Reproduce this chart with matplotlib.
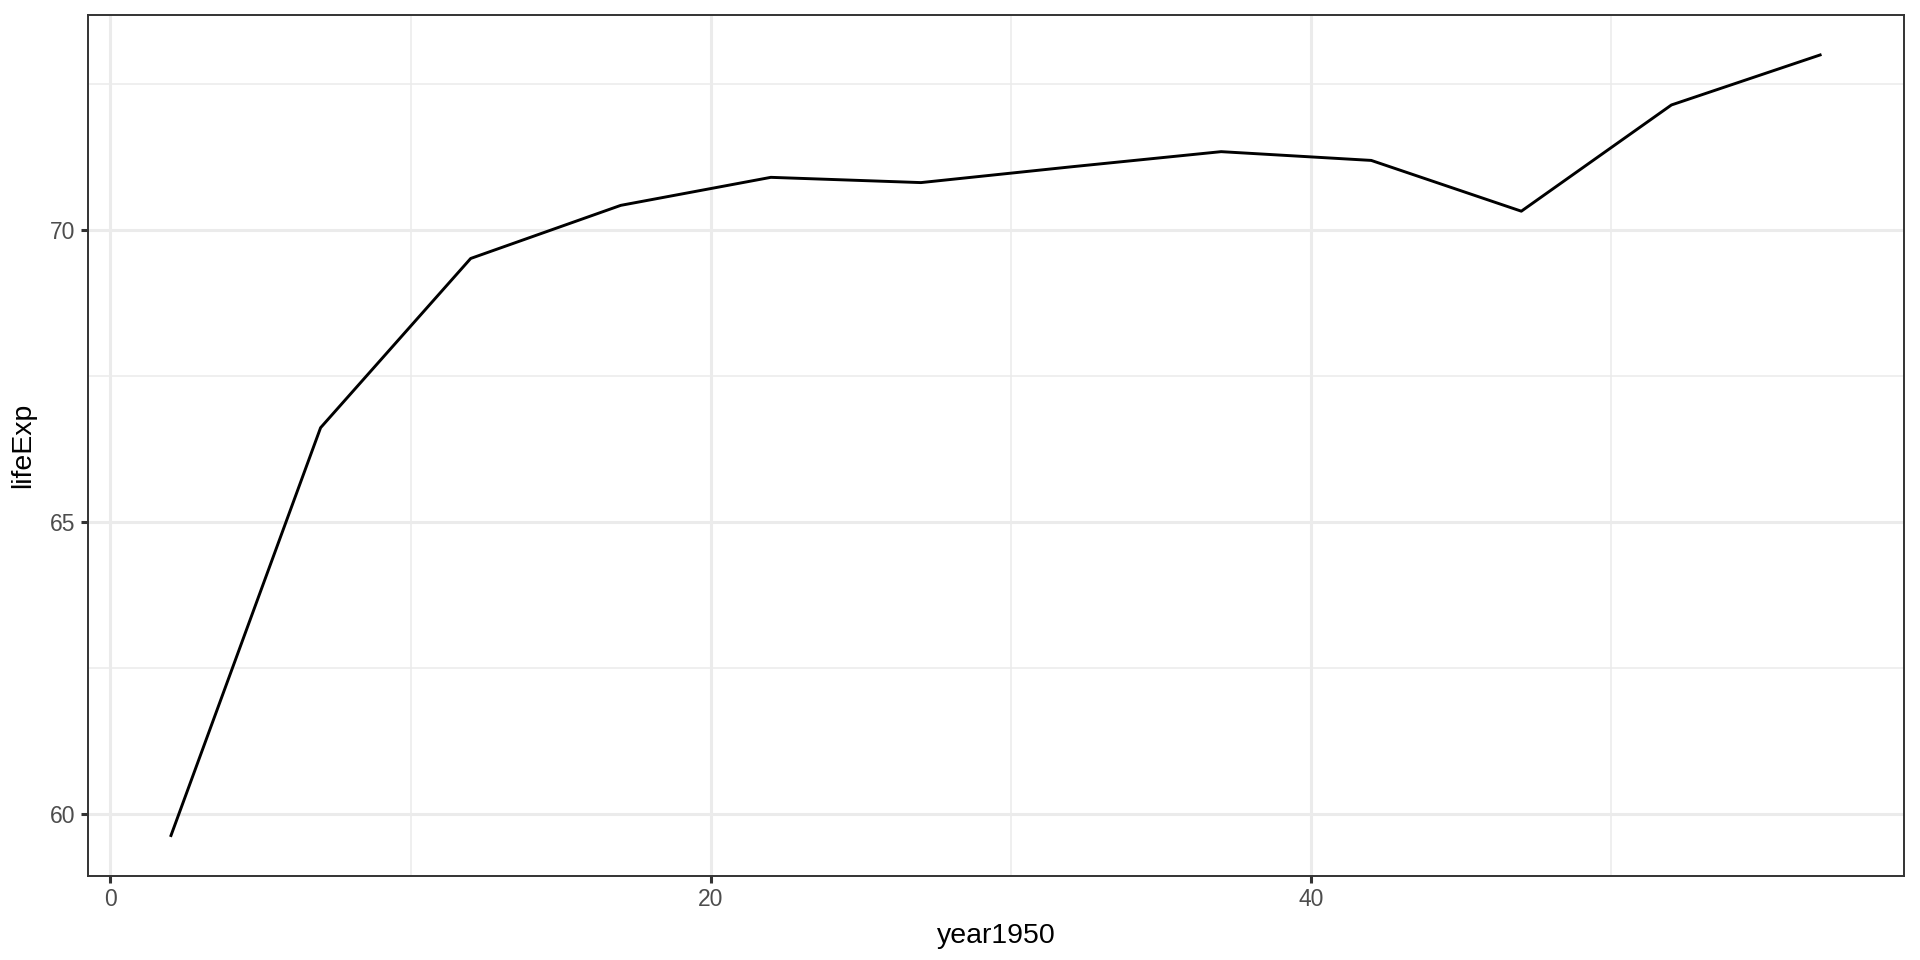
import numpy as np
import matplotlib.pyplot as plt

plt.rcParams['font.family'] = ['Liberation Sans', 'DejaVu Sans']

# Bulgaria, years since 1950
year1950 = [2, 7, 12, 17, 22, 27, 32, 37, 42, 47, 52, 57]
lifeExp = [59.6, 66.61, 69.51, 70.42, 70.9, 70.81, 71.08, 71.34, 71.19, 70.32, 72.14, 73.005]

fig = plt.figure(figsize=(19.2, 9.6), dpi=100)
ax = fig.add_axes([0.0458, 0.0875, 0.9459, 0.8965])

ax.plot(year1950, lifeExp, color='black', lw=2.1, solid_capstyle='butt', zorder=3)

# ggplot-style 5% expansion
xr = max(year1950) - min(year1950)
yr = max(lifeExp) - min(lifeExp)
ax.set_xlim(min(year1950) - 0.05 * xr, max(year1950) + 0.05 * xr)
ax.set_ylim(min(lifeExp) - 0.05 * yr, max(lifeExp) + 0.05 * yr)

ax.set_xticks([0, 20, 40])
ax.set_xticks([10, 30, 50], minor=True)
ax.set_yticks([60, 65, 70])
ax.set_yticks([62.5, 67.5, 72.5], minor=True)

ax.grid(which='major', color='#EBEBEB', lw=2.2)
ax.grid(which='minor', color='#EBEBEB', lw=1.1)
ax.set_axisbelow(True)

ax.tick_params(which='major', length=5, width=2.2, color='#333333',
               labelcolor='#4D4D4D', labelsize=16.5, pad=4)
ax.tick_params(which='minor', length=0)
for s in ax.spines.values():
    s.set_color('#333333')
    s.set_linewidth(1.4)

ax.set_xlabel('year1950', fontsize=20.5, labelpad=8)
ax.set_ylabel('lifeExp', fontsize=20.5, labelpad=10)

fig.savefig('out.png', dpi=100)
